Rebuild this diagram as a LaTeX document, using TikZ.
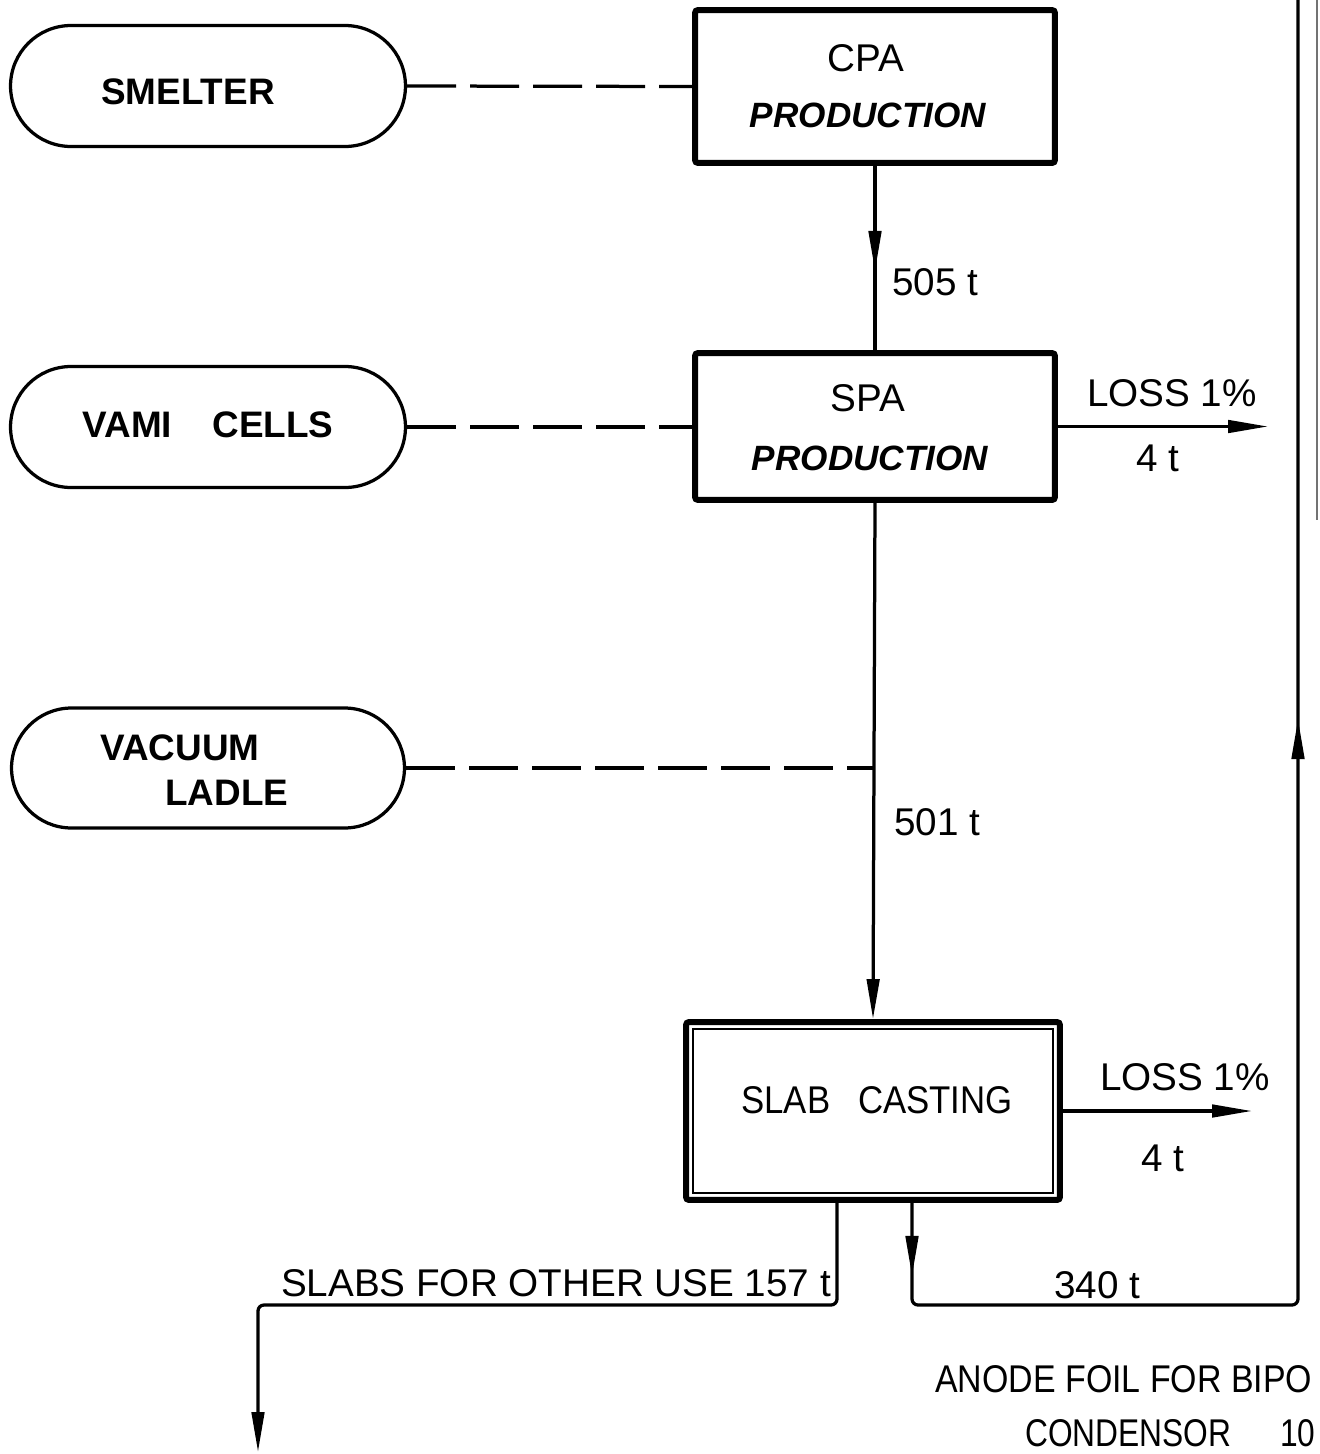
\documentclass[tikz,border=0pt]{standalone}
\usepackage{fontspec}
\setmainfont{Liberation Sans}
\usetikzlibrary{arrows.meta,shapes.misc,decorations.markings,calc}
\begin{document}
\begin{tikzpicture}[x=0.02cm,y=-0.02cm,
  txt/.style={font=\fontsize{22}{26}\selectfont, inner sep=0pt},
  ntxt/.style={font=\fontsize{22}{26}\selectfont, inner sep=0pt, xscale=0.82},
  btxt/.style={font=\fontsize{21}{25}\selectfont\bfseries, inner sep=0pt},
  itxt/.style={font=\fontsize{20}{24}\selectfont\bfseries\itshape, inner sep=0pt},
  procbox/.style={draw, line width=0.12cm, rounded corners=0.06cm, inner sep=0pt},
  source/.style={draw, rounded rectangle, line width=0.065cm, inner sep=0pt,
                 minimum height=2.42cm, minimum width=7.9cm},
  conn/.style={line width=0.065cm},
  feed/.style={conn, dash pattern=on 0.98cm off 0.28cm},
  tipA/.tip={Triangle[length=0.8cm,width=0.25cm]},
  midarrow/.style={postaction={decorate},
     decoration={markings, mark=at position #1 with {\arrow{tipA}}}},
]
\useasboundingbox (0,0) rectangle (1319,1454);
\clip (0,0) rectangle (1319,1454);

% source ovals
\node[source] (smelter) at (208,86) {};
\node[btxt] (smelterlbl) at (188,92) {SMELTER};
\node[source] (vami) at (208,427) {};
\node[btxt] (vamilbl) at (208,425) {VAMI\hspace{1.1em}CELLS};
\node[source, minimum width=7.86cm, minimum height=2.4cm] (ladle) at (208,768) {};
\node[btxt, anchor=west] (ladlelbl1) at (100,748) {VACUUM};
\node[btxt, anchor=west] (ladlelbl2) at (165,793) {LADLE};

% process boxes
\node[procbox, minimum width=7.2cm, minimum height=3.06cm] (cpa) at (875,86.5) {};
\node[txt] (cpalbl) at (866,58) {CPA};
\node[itxt] (cpalbl2) at (868,115) {PRODUCTION};
\node[procbox, minimum width=7.2cm, minimum height=2.94cm] (spa) at (875,426.5) {};
\node[txt] (spalbl) at (868,398) {SPA};
\node[itxt] (spalbl2) at (870,458) {PRODUCTION};
\node[procbox, minimum width=7.48cm, minimum height=3.56cm] (slab) at (873,1111) {};
\draw[line width=0.055cm] ([shift={(10,10)}]slab.north west) rectangle ([shift={(-10,-10)}]slab.south east);
\node[txt, xscale=0.9] (slablbl) at (877,1100) {SLAB\hspace{0.8em}CASTING};

% dashed feeds
\draw[feed] (smelter.east) -- (cpa.west);
\draw[feed] (vami.east) -- (vami.east -| spa.west);
\coordinate (join) at (ladle.east -| spa.south);
\draw[feed] (ladle.east) -- (join);

% main flow
\draw[conn, midarrow=2.1cm] (cpa.south) -- (spa.north);
\node[txt] (f505) at (935,282) {505 t};
\draw[conn, -{tipA}] (spa.south) -- (slab.north);
\node[txt] (f501) at (937,822) {501 t};

% losses
\coordinate (loss1) at (1268,427);
\draw[conn, -{tipA}] (spa.east) -- (spa.east -| loss1);
\node[txt] (loss1a) at (1172,393) {LOSS 1\%};
\node[txt] (loss1b) at (1158,458) {4 t};
\coordinate (loss2) at (1252,1111);
\draw[conn, -{tipA}] (slab.east) -- (loss2);
\node[txt] (loss2a) at (1185,1077) {LOSS 1\%};
\node[txt] (loss2b) at (1163,1158) {4 t};

% 340 t loop to the right
\coordinate (r1) at (912,1305);
\coordinate (r2) at (1298,1305);
\coordinate (rtop) at (1298,-10);
\draw[conn, rounded corners=0.12cm,
      postaction={decorate},
      decoration={markings,
        mark=at position 1.46cm with {\arrow{tipA}},
        mark=at position 21.38cm with {\arrow{tipA}}}]
  (slab.south -| r1) -- (r1) -- (r2) -- (rtop);
\node[txt] (f340) at (1097,1285) {340 t};

% slabs for other use
\coordinate (l1) at (837,1305);
\coordinate (l2) at (258,1305);
\coordinate (lend) at (258,1452);
\draw[conn, rounded corners=0.12cm, -{tipA}] (slab.south -| l1) -- (l1) -- (l2) -- (lend);
\node[txt] (f157) at (556,1283) {SLABS FOR OTHER USE 157 t};

% faint edge line at right
\draw[line width=0.03cm, black!55] (1317,0) -- (1317,520);

% bottom texts
\node[ntxt, xscale=1.07, anchor=west] (anode) at (935,1379) {ANODE FOIL FOR BIPO};
\node[ntxt, anchor=west] (cond) at (1025,1433) {CONDENSOR};
\node[ntxt, anchor=west] (cond10) at (1280,1433) {10};
\end{tikzpicture}
\end{document}
